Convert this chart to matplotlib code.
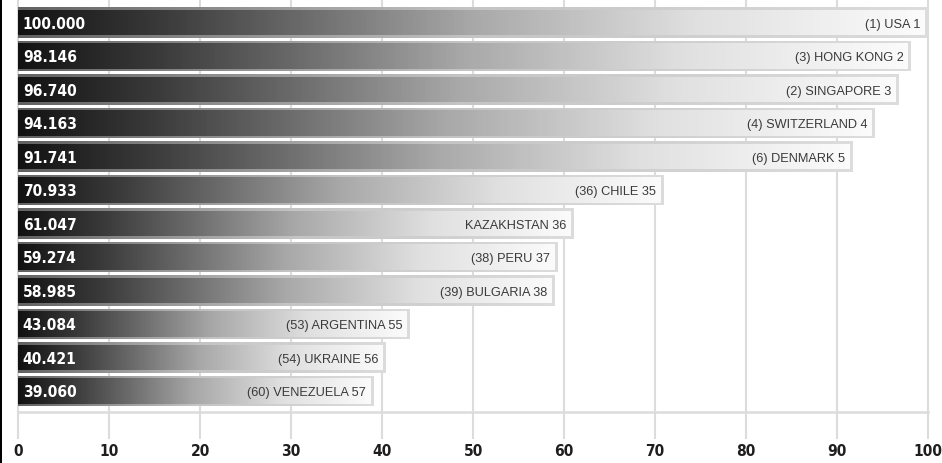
import numpy as np
import matplotlib
matplotlib.use("Agg")
import matplotlib.pyplot as plt
from matplotlib import font_manager
from matplotlib.font_manager import FontProperties
from matplotlib.colors import LinearSegmentedColormap
from matplotlib.patches import Rectangle

# Index scores (0-100) with rank labels
scores = [100.000, 98.146, 96.740, 94.163, 91.741, 70.933,
          61.047, 59.274, 58.985, 43.084, 40.421, 39.060]
score_text = ["100.000", "98.146", "96.740", "94.163", "91.741", "70.933",
              "61.047", "59.274", "58.985", "43.084", "40.421", "39.060"]
countries = ["(1) USA 1", "(3) HONG KONG 2", "(2) SINGAPORE 3",
             "(4) SWITZERLAND 4", "(6) DENMARK 5", "(36) CHILE 35",
             "KAZAKHSTAN 36", "(38) PERU 37", "(39) BULGARIA 38",
             "(53) ARGENTINA 55", "(54) UKRAINE 56", "(60) VENEZUELA 57"]
x_ticks = list(range(0, 101, 10))


def _weight(w):
    if isinstance(w, str):
        return {"bold": 700, "semibold": 600, "demibold": 600, "heavy": 800,
                "black": 900, "extra bold": 800}.get(w, 400)
    return int(w)


# a narrow bold face for the numbers, if one is installed
cands = [f for f in font_manager.fontManager.ttflist
         if f.stretch in ("condensed", "semi-condensed", "extra-condensed")
         or "Narrow" in f.name or "Condensed" in f.name]
cands.sort(key=lambda f: (abs(_weight(f.weight) - 700),
                          0 if f.style == "normal" else 1))
if cands:
    num_fp = FontProperties(fname=cands[0].fname, size=11.2)
    num_kw = dict(fontproperties=num_fp)
else:
    num_kw = dict(family=["Roboto", "DejaVu Sans"], fontweight="bold",
                  fontsize=11.2)
lab_family = ["Liberation Sans", "DejaVu Sans"]

W, H = 942, 464
fig = plt.figure(figsize=(W / 100, H / 100), dpi=100)
ax = fig.add_axes([0, 51 / H, 1, 413 / H])

# dark-to-white bar fill and a lighter rim around it
bar_cmap = LinearSegmentedColormap.from_list(
    "bar", [(0.0, "#121212"), (0.155, "#3a3a3a"), (0.31, "#6a6a6a"),
            (0.5, "#a8a8a8"), (0.75, "#e0e0e0"), (1.0, "#fbfbfb")])
rim_cmap = LinearSegmentedColormap.from_list(
    "rim", [(0.0, "#626262"), (0.5, "#c4c4c4"), (1.0, "#dcdcdc")])
grad = np.linspace(0, 1, 256).reshape(1, -1)

y = np.arange(len(scores))
outer_h = 0.925
inner_h = 0.75
inset = 0.33

outer = ax.barh(y, scores, height=outer_h, color="none", zorder=2)
inner = ax.barh(y, [s - inset for s in scores], height=inner_h,
                color="none", zorder=3)

for yi, s, ob, ib in zip(y, scores, outer, inner):
    im = ax.imshow(grad, cmap=rim_cmap, aspect="auto", interpolation="bilinear",
                   extent=[0, s, yi + outer_h / 2, yi - outer_h / 2], zorder=2)
    im.set_clip_path(ob)
    im2 = ax.imshow(grad, cmap=bar_cmap, aspect="auto", interpolation="bilinear",
                    extent=[0, s - inset, yi + inner_h / 2, yi - inner_h / 2],
                    zorder=3)
    im2.set_clip_path(ib)

for yi, s, st, c in zip(y, scores, score_text, countries):
    ax.text(0.5, yi + 0.02, st, color="white",
            ha="left", va="center", zorder=5, **num_kw)
    ax.text(s - 0.8, yi + 0.03, c, color="#3a3a3a", fontsize=9.2,
            family=lab_family, ha="right", va="center", zorder=5)

px = 9.097
ax.set_xlim(-18.3 / px, (W - 18.3) / px)
ax.set_ylim((413 - 23.5) / 33.5, -23.5 / 33.5)

ax.set_xticks(x_ticks)
ax.set_xticklabels([str(t) for t in x_ticks], color="#1e1e1e", **num_kw)
ax.set_yticks([])
ax.grid(axis="x", color="#dcdcdc", lw=1.5, zorder=0)
ax.set_axisbelow(True)
for side in ["top", "left", "right"]:
    ax.spines[side].set_visible(False)
ax.spines["bottom"].set_color("#dcdcdc")
ax.spines["bottom"].set_linewidth(1.8)
ax.spines["bottom"].set_bounds(0, 100)
ax.tick_params(axis="x", length=19.5, width=1.5, color="#dcdcdc", pad=3)
ax.set_facecolor("white")

fig.add_artist(Rectangle((0, 0), 2 / W, 1, transform=fig.transFigure,
                         color="black", lw=0))

fig.savefig("out.png", dpi=100)
